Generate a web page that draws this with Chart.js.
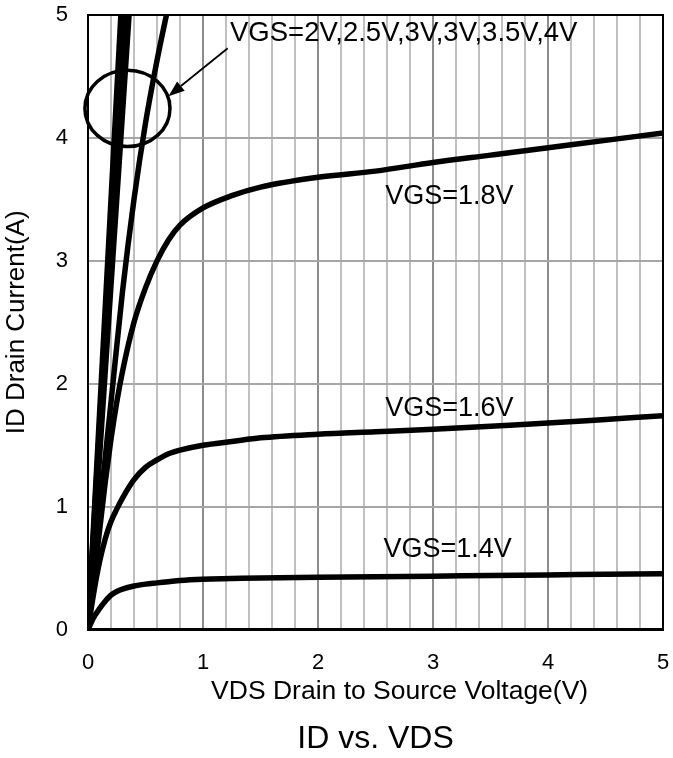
<!DOCTYPE html>
<html>
<head>
<meta charset="utf-8">
<script src="https://cdn.jsdelivr.net/npm/chart.js@4/dist/chart.umd.min.js"></script>
<style>
  html, body { margin: 0; padding: 0; background: #fff; }
  #chart { display: block; }
</style>
</head>
<body>
<canvas id="chart" width="673" height="758"></canvas>
<script>
// ID vs. VDS — 출력 특성 곡선 (값은 그림에서 읽음)
const FONT = "'Liberation Sans', Arial, sans-serif";

// 포화 곡선 (VGS=1.4/1.6/1.8V)
const VDS_CURVE = [0, 0.05, 0.1, 0.15, 0.2, 0.25, 0.3, 0.4, 0.5, 0.6, 0.7, 0.8, 1, 1.25, 1.5, 2, 2.5, 3, 3.5, 4, 4.5, 5];
const ID_14 = [0, 0.1, 0.17, 0.23, 0.28, 0.31, 0.33, 0.355, 0.37, 0.38, 0.39, 0.4, 0.41, 0.415, 0.42, 0.425, 0.43, 0.435, 0.44, 0.445, 0.45, 0.455];
const ID_16 = [0, 0.3, 0.55, 0.74, 0.88, 0.98, 1.07, 1.22, 1.32, 1.38, 1.43, 1.46, 1.5, 1.53, 1.56, 1.59, 1.61, 1.63, 1.655, 1.68, 1.71, 1.74];
const ID_18 = [0, 0.4, 0.8, 1.2, 1.55, 1.85, 2.1, 2.5, 2.78, 3.0, 3.17, 3.29, 3.43, 3.53, 3.6, 3.68, 3.73, 3.8, 3.86, 3.92, 3.98, 4.04];

// 선형 영역 (VGS=2V 이상) — 위쪽은 축 범위 밖으로 잘림
const VDS_20 = [0, 0.1, 0.2, 0.3, 0.4, 0.5, 0.6, 0.7];
const ID_20 = [0, 0.95, 1.85, 2.75, 3.5, 4.12, 4.63, 5.08];
const VDS_25 = [0, 0.1, 0.2, 0.3, 0.4];
const ID_25 = [0, 1.4, 2.8, 4.2, 5.6];
const VDS_30A = [0, 0.1, 0.2, 0.3, 0.35];
const ID_30A = [0, 1.5, 3.0, 4.5, 5.25];
const VDS_30B = [0, 0.1, 0.2, 0.3, 0.35];
const ID_30B = [0, 1.56, 3.12, 4.68, 5.46];
const VDS_35 = [0, 0.1, 0.2, 0.3, 0.35];
const ID_35 = [0, 1.65, 3.3, 4.95, 5.78];
const VDS_40 = [0, 0.1, 0.2, 0.3];
const ID_40 = [0, 1.75, 3.5, 5.25];

const X_TICKS = [0, 1, 2, 3, 4, 5];
const Y_TICKS = [0, 1, 2, 3, 4, 5];

const X_TITLE = "VDS Drain to Source Voltage(V)";
const CURVE_LABELS = ["VGS=1.4V", "VGS=1.6V", "VGS=1.8V"];
const GROUP_LABEL = "VGS=2V,2.5V,3V,3V,3.5V,4V";

// 주석 위치 (데이터 좌표)
const LABEL_POS = [[2.57, 0.655], [2.585, 1.8], [2.585, 3.52]];
const GROUP_POS = [1.235, 4.85];
const X_TITLE_AT = 2.71;          // 원본에서 x축 제목이 약간 오른쪽에 있음
const RING = { x: 0.343, y: 4.24, rx: 0.37, ry: 0.31 };
const ARROW = { from: [1.215, 4.73], to: [0.70, 4.34] };

const isInt = (v) => Math.abs(v - Math.round(v)) < 1e-6;
const pts = (xs, ys) => xs.map((x, i) => ({ x, y: ys[i] }));

function series(label, xs, ys, smooth) {
  return {
    label,
    data: pts(xs, ys),
    borderColor: "#000",
    borderWidth: 5.5,
    borderCapStyle: "round",
    borderJoinStyle: "round",
    pointRadius: 0,
    fill: false,
    cubicInterpolationMode: smooth ? "monotone" : "default",
    tension: 0,
  };
}

const datasets = [
  series("VGS=1.4V", VDS_CURVE, ID_14, true),
  series("VGS=1.6V", VDS_CURVE, ID_16, true),
  series("VGS=1.8V", VDS_CURVE, ID_18, true),
  series("VGS=2V", VDS_20, ID_20, true),
  series("VGS=2.5V", VDS_25, ID_25, false),
  series("VGS=3V", VDS_30A, ID_30A, false),
  series("VGS=3V", VDS_30B, ID_30B, false),
  series("VGS=3.5V", VDS_35, ID_35, false),
  series("VGS=4V", VDS_40, ID_40, false),
];

// 테두리, 원, 화살표, 곡선 라벨, x축 제목
const overlay = {
  id: "overlay",
  afterDatasetsDraw(chart) {
    const { ctx, chartArea: a, scales: { x, y } } = chart;
    ctx.save();
    ctx.strokeStyle = "#000";
    ctx.lineWidth = 2;
    ctx.strokeRect(a.left, a.top, a.right - a.left, a.bottom - a.top);

    // 원
    const cx = x.getPixelForValue(RING.x), cy = y.getPixelForValue(RING.y);
    const rx = x.getPixelForValue(RING.x + RING.rx) - cx;
    const ry = cy - y.getPixelForValue(RING.y + RING.ry);
    ctx.lineWidth = 3.5;
    ctx.beginPath();
    ctx.ellipse(cx, cy, rx, ry, 0, 0, Math.PI * 2);
    ctx.stroke();

    // 화살표
    const x1 = x.getPixelForValue(ARROW.from[0]), y1 = y.getPixelForValue(ARROW.from[1]);
    const x2 = x.getPixelForValue(ARROW.to[0]), y2 = y.getPixelForValue(ARROW.to[1]);
    const ang = Math.atan2(y2 - y1, x2 - x1);
    const hl = 16, hw = 6;
    const bx = x2 - hl * Math.cos(ang), by = y2 - hl * Math.sin(ang);
    ctx.lineWidth = 1.8;
    ctx.beginPath();
    ctx.moveTo(x1, y1);
    ctx.lineTo(bx, by);
    ctx.stroke();
    ctx.fillStyle = "#000";
    ctx.beginPath();
    ctx.moveTo(x2, y2);
    ctx.lineTo(bx + hw * Math.sin(ang), by - hw * Math.cos(ang));
    ctx.lineTo(bx - hw * Math.sin(ang), by + hw * Math.cos(ang));
    ctx.closePath();
    ctx.fill();

    // 라벨
    ctx.font = "27px " + FONT;
    ctx.textAlign = "left";
    ctx.textBaseline = "middle";
    CURVE_LABELS.forEach((t, i) => {
      ctx.fillText(t, x.getPixelForValue(LABEL_POS[i][0]), y.getPixelForValue(LABEL_POS[i][1]));
    });
    ctx.font = "27.5px " + FONT;
    ctx.fillText(GROUP_LABEL, x.getPixelForValue(GROUP_POS[0]), y.getPixelForValue(GROUP_POS[1]));

    // x축 제목
    ctx.font = "26.5px " + FONT;
    ctx.textAlign = "center";
    ctx.fillText(X_TITLE, x.getPixelForValue(X_TITLE_AT), a.bottom + 62);
    ctx.restore();
  },
};

new Chart(document.getElementById("chart"), {
  type: "line",
  data: { datasets },
  plugins: [overlay],
  options: {
    responsive: false,
    animation: false,
    layout: { padding: { top: 15, right: 10, left: 0, bottom: 0 } },
    plugins: {
      legend: { display: false },
      tooltip: { enabled: false },
      title: {
        display: true,
        text: "ID vs. VDS",
        position: "bottom",
        fullSize: false,
        color: "#000",
        font: { family: FONT, size: 32, weight: "normal" },
        padding: { top: 9, bottom: 0 },
      },
    },
    scales: {
      x: {
        type: "linear",
        min: 0,
        max: 5,
        afterFit: (s) => {
          s.height = 81;
          s.paddingLeft = 0;
          s.paddingRight = 0;
        },
        afterBuildTicks: (s) => {
          // 0.2 간격 세로 격자, 라벨은 정수에만
          const t = [];
          for (let i = 0; i <= 25; i++) t.push({ value: Math.round(i * 2) / 10 });
          s.ticks = t;
        },
        ticks: {
          autoSkip: false,
          maxRotation: 0,
          padding: 20,
          color: "#000",
          font: { family: FONT, size: 22 },
          callback: (v) => (X_TICKS.some((k) => isInt(v) && k === Math.round(v)) ? String(Math.round(v)) : ""),
        },
        grid: {
          color: (c) => (isInt(c.tick.value) ? "#8c8c8c" : "#c0c0c0"),
          lineWidth: 2,
          drawTicks: false,
        },
        border: { color: "#000", width: 3 },
        title: { display: false },
      },
      y: {
        min: 0,
        max: 5,
        afterFit: (s) => {
          s.width = 88;
          s.paddingTop = 0;
          s.paddingBottom = 0;
        },
        afterBuildTicks: (s) => { s.ticks = Y_TICKS.map((v) => ({ value: v })); },
        ticks: {
          padding: 20,
          color: "#000",
          font: { family: FONT, size: 22 },
        },
        grid: { color: "#a6a6a6", lineWidth: 2, drawTicks: false },
        border: { color: "#000", width: 2 },
        title: {
          display: true,
          text: "ID Drain Current(A)",
          color: "#000",
          font: { family: FONT, size: 26 },
          padding: { top: 1, bottom: 0 },
        },
      },
    },
  },
});
</script>
</body>
</html>
